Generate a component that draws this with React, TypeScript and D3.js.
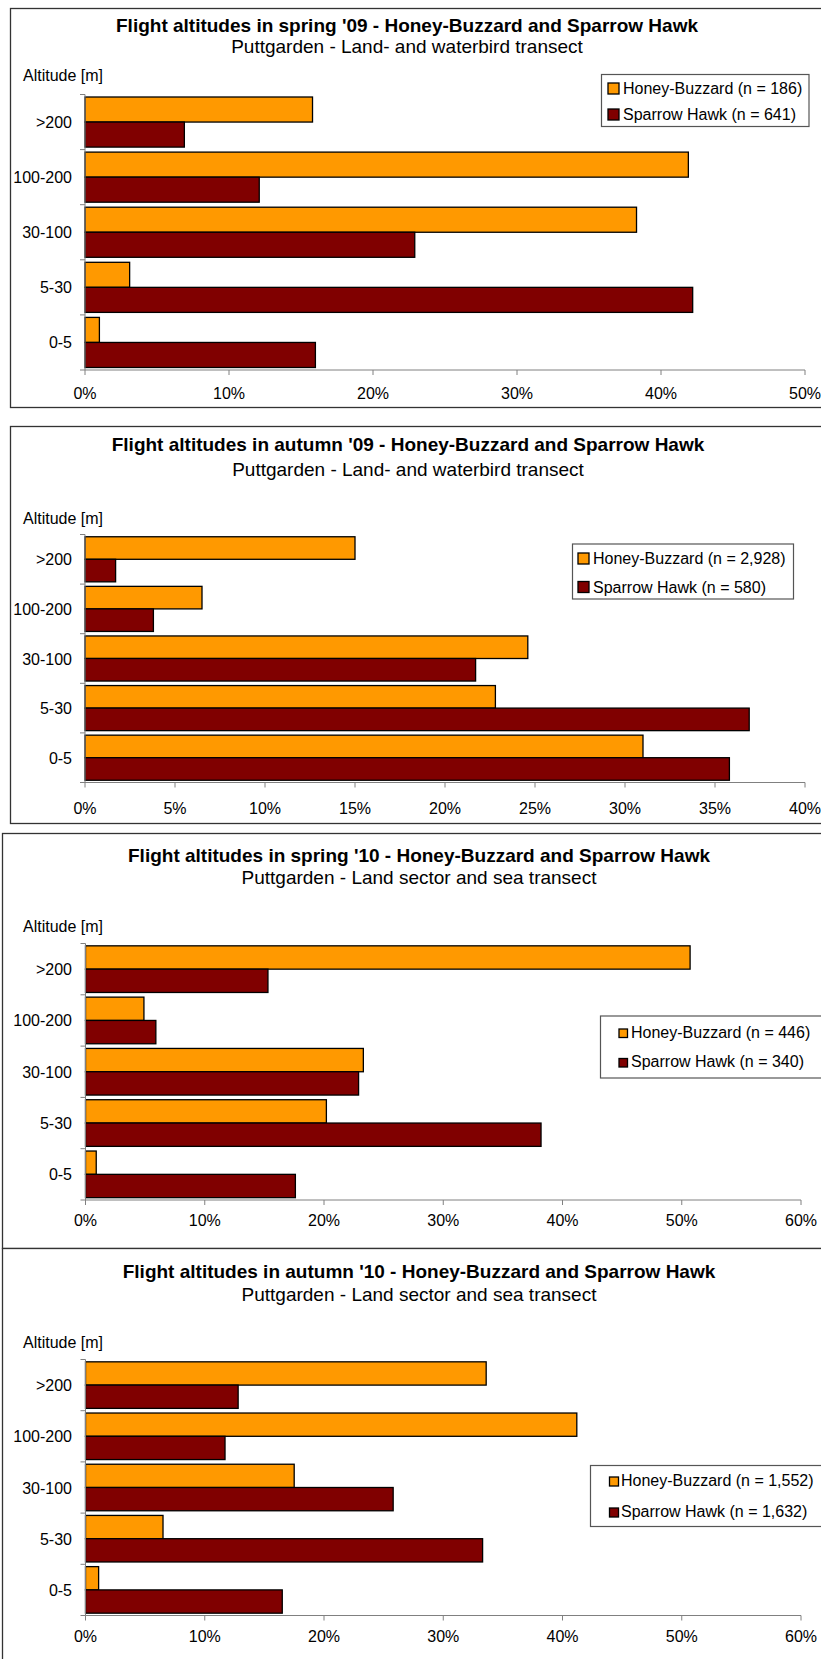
import * as d3 from "d3";

const categories = [">200", "100-200", "30-100", "5-30", "0-5"];

// percentages, top category first
const spring09HoneyBuzzard = [15.8, 41.9, 38.3, 3.1, 1.0];
const spring09SparrowHawk = [6.9, 12.1, 22.9, 42.2, 16.0];
const autumn09HoneyBuzzard = [15.0, 6.5, 24.6, 22.8, 31.0];
const autumn09SparrowHawk = [1.7, 3.8, 21.7, 36.9, 35.8];
const spring10HoneyBuzzard = [50.7, 4.9, 23.3, 20.2, 0.9];
const spring10SparrowHawk = [15.3, 5.9, 22.9, 38.2, 17.6];
const autumn10HoneyBuzzard = [33.6, 41.2, 17.5, 6.5, 1.1];
const autumn10SparrowHawk = [12.8, 11.7, 25.8, 33.3, 16.5];

const titles = [
  "Flight altitudes in spring '09 - Honey-Buzzard and Sparrow Hawk",
  "Flight altitudes in autumn '09 - Honey-Buzzard and Sparrow Hawk",
  "Flight altitudes in spring '10 - Honey-Buzzard and Sparrow Hawk",
  "Flight altitudes in autumn '10 - Honey-Buzzard and Sparrow Hawk",
];
const subtitles = [
  "Puttgarden - Land- and waterbird transect",
  "Puttgarden - Land- and waterbird transect",
  "Puttgarden - Land sector and sea transect",
  "Puttgarden - Land sector and sea transect",
];
const honeyLabels = ["Honey-Buzzard (n = 186)", "Honey-Buzzard (n = 2,928)", "Honey-Buzzard (n = 446)", "Honey-Buzzard (n = 1,552)"];
const hawkLabels = ["Sparrow Hawk (n = 641)", "Sparrow Hawk (n = 580)", "Sparrow Hawk (n = 340)", "Sparrow Hawk (n = 1,632)"];
const axisMax = [50, 40, 60, 60];
const tickStep = [10, 5, 10, 10];

const ORANGE = "#FF9900";
const MAROON = "#800000";
const FONT = "'Liberation Sans', Arial, sans-serif";

interface Layout {
  frame: [number, number, number, number]; // left, top, right, bottom
  centerX: number;
  titleY: number;
  subY: number;
  altY: number;
  plotTop: number;
  axisY: number;
  labelY: number;
  x0: number;
  x1: number;
  legend: { x: number; y: number; w: number; h: number; sw: number; sx: number; tx: number; b1: number; b2: number };
}

const layouts: Layout[] = [
  {
    frame: [10.5, 8.5, 840, 407.5], centerX: 407, titleY: 32, subY: 53, altY: 81,
    plotTop: 94.5, axisY: 370, labelY: 399, x0: 85, x1: 805,
    legend: { x: 601.5, y: 74.5, w: 207.5, h: 52, sw: 11, sx: 608, tx: 623, b1: 94, b2: 120 },
  },
  {
    frame: [10.5, 426.5, 840, 823.5], centerX: 408, titleY: 451, subY: 475.5, altY: 524,
    plotTop: 534.5, axisY: 782.5, labelY: 814, x0: 85, x1: 805,
    legend: { x: 572.5, y: 544, w: 221, h: 55, sw: 11, sx: 578, tx: 593, b1: 564, b2: 592.5 },
  },
  {
    frame: [2.5, 833.5, 840, 1248.5], centerX: 419, titleY: 861.5, subY: 884, altY: 932,
    plotTop: 943.5, axisY: 1200, labelY: 1226, x0: 85.5, x1: 801,
    legend: { x: 600.5, y: 1016, w: 260, h: 62, sw: 8.5, sx: 619, tx: 631, b1: 1037.5, b2: 1067 },
  },
  {
    frame: [2.5, 1248.5, 840, 1700], centerX: 419, titleY: 1278, subY: 1301, altY: 1347.5,
    plotTop: 1359.5, axisY: 1615.5, labelY: 1642, x0: 85.5, x1: 801,
    legend: { x: 590.5, y: 1465.5, w: 270, h: 61, sw: 9, sx: 609.5, tx: 621, b1: 1486, b2: 1517 },
  },
];

const panelData = [
  [spring09HoneyBuzzard, spring09SparrowHawk],
  [autumn09HoneyBuzzard, autumn09SparrowHawk],
  [spring10HoneyBuzzard, spring10SparrowHawk],
  [autumn10HoneyBuzzard, autumn10SparrowHawk],
];

function Panel({ i }: { i: number }) {
  const L = layouts[i];
  const [honey, hawk] = panelData[i];
  const x = d3.scaleLinear().domain([0, axisMax[i]]).range([L.x0, L.x1]);
  const y = d3.scaleBand<string>().domain(categories).range([L.plotTop, L.axisY]).padding(0);
  const inner = d3
    .scaleBand<string>()
    .domain(["honey", "hawk"])
    .range([0, y.bandwidth()])
    .paddingInner(0)
    .paddingOuter(0.1);
  const ticks = d3.range(0, axisMax[i] + 0.001, tickStep[i]);
  const [fl, ft, fr, fb] = L.frame;
  const lg = L.legend;

  return (
    <g fontFamily={FONT}>
      <rect x={fl} y={ft} width={fr - fl} height={fb - ft} fill="#fff" stroke="#333" strokeWidth={1.3} />
      <text x={L.centerX} y={L.titleY} textAnchor="middle" fontSize={19} fontWeight="bold">
        {titles[i]}
      </text>
      <text x={L.centerX} y={L.subY} textAnchor="middle" fontSize={19}>
        {subtitles[i]}
      </text>
      <text x={23} y={L.altY} fontSize={16}>
        Altitude [m]
      </text>

      {categories.map((c, k) => (
        <g key={c}>
          <rect
            x={x(0)}
            y={y(c)! + inner("honey")!}
            width={x(honey[k]) - x(0)}
            height={inner.bandwidth()}
            fill={ORANGE}
            stroke="#000"
            strokeWidth={1.3}
          />
          <rect
            x={x(0)}
            y={y(c)! + inner("hawk")!}
            width={x(hawk[k]) - x(0)}
            height={inner.bandwidth()}
            fill={MAROON}
            stroke="#000"
            strokeWidth={1.3}
          />
          <text x={72} y={y(c)! + y.bandwidth() / 2 + 6} textAnchor="end" fontSize={16}>
            {c}
          </text>
        </g>
      ))}

      {/* category axis with ticks between groups */}
      <line x1={x(0)} x2={x(0)} y1={L.plotTop} y2={L.axisY} stroke="#808080" />
      {categories.map((c) => (
        <line key={c} x1={x(0) - 5} x2={x(0)} y1={y(c)!} y2={y(c)!} stroke="#808080" />
      ))}
      <line x1={x(0) - 5} x2={x(0)} y1={L.axisY} y2={L.axisY} stroke="#808080" />

      {/* percentage axis */}
      <line x1={x(0)} x2={x(axisMax[i])} y1={L.axisY} y2={L.axisY} stroke="#808080" />
      {ticks.map((t) => (
        <g key={t}>
          <line x1={x(t)} x2={x(t)} y1={L.axisY} y2={L.axisY + 5} stroke="#808080" />
          <text x={x(t)} y={L.labelY} textAnchor="middle" fontSize={16}>
            {`${t}%`}
          </text>
        </g>
      ))}

      {/* legend */}
      <rect x={lg.x} y={lg.y} width={lg.w} height={lg.h} fill="#fff" stroke="#555" strokeWidth={1.2} />
      <rect x={lg.sx} y={lg.b1 - lg.sw} width={lg.sw} height={lg.sw} fill={ORANGE} stroke="#000" strokeWidth={1.3} />
      <text x={lg.tx} y={lg.b1} fontSize={16}>
        {honeyLabels[i]}
      </text>
      <rect x={lg.sx} y={lg.b2 - lg.sw} width={lg.sw} height={lg.sw} fill={MAROON} stroke="#000" strokeWidth={1.3} />
      <text x={lg.tx} y={lg.b2} fontSize={16}>
        {hawkLabels[i]}
      </text>
    </g>
  );
}

export default function App() {
  return (
    <svg
      width={821}
      height={1659}
      style={{ position: "absolute", left: 0, top: 0, background: "#fff" }}
    >
      {layouts.map((_, i) => (
        <Panel key={i} i={i} />
      ))}
    </svg>
  );
}
